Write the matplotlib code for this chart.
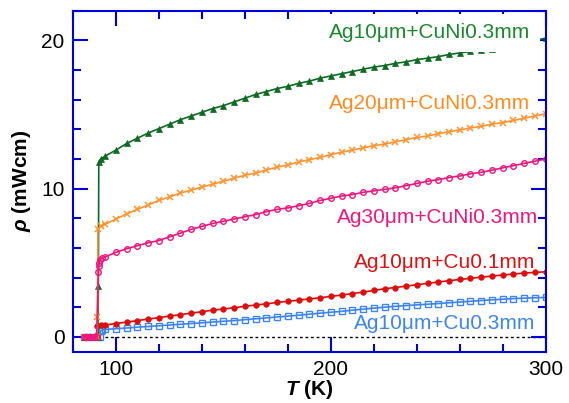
import numpy as np
import matplotlib
matplotlib.use("Agg")
import matplotlib.pyplot as plt
from matplotlib.ticker import MultipleLocator

# Resistivity vs temperature for Ag/Cu and Ag/CuNi samples
# low-T part (below and through the transition), then a 5 K grid up to 300 K
temp_grid = [95, 100, 105, 110, 115, 120, 125, 130, 135, 140,
             145, 150, 155, 160, 165, 170, 175, 180, 185, 190,
             195, 200, 205, 210, 215, 220, 225, 230, 235, 240,
             245, 250, 255, 260, 265, 270, 275, 280, 285, 290,
             295, 300]

# Ag10um + CuNi0.3mm
green_t_low = [85, 87, 89, 91, 91.7, 91.8, 92.0, 93.0]
green_rho_low = [0, 0, 0, 0, 0, 3.4, 11.8, 12.0]
green_rho = [12.2, 12.6, 13.05, 13.4, 13.75, 14.05, 14.35, 14.65, 14.9, 15.15,
             15.4, 15.6, 15.85, 16.1, 16.35, 16.55, 16.75, 16.9, 17.1, 17.25,
             17.45, 17.6, 17.75, 17.9, 18.05, 18.2, 18.3, 18.45, 18.55, 18.7,
             18.8, 18.9, 19.05, 19.15, 19.25, 19.35, 19.45, 19.55, 19.7, 19.85,
             20.0, 20.15]

# Ag20um + CuNi0.3mm
orange_t_low = [85, 87, 89, 91, 91.3, 91.4, 91.6, 93.0]
orange_rho_low = [0, 0, 0, 0, 0, 1.35, 7.25, 7.45]
orange_rho = [7.6, 7.95, 8.3, 8.6, 8.9, 9.2, 9.45, 9.7, 9.9, 10.1,
              10.3, 10.5, 10.7, 10.9, 11.05, 11.25, 11.45, 11.6, 11.8, 11.95,
              12.1, 12.3, 12.45, 12.6, 12.75, 12.9, 13.0, 13.15, 13.3, 13.45,
              13.55, 13.7, 13.85, 13.95, 14.1, 14.2, 14.35, 14.45, 14.6, 14.75,
              14.9, 15.05]

# Ag30um + CuNi0.3mm
pink_t_low = [85, 86, 87, 88, 89, 90, 91, 91.8, 92.0, 92.2, 92.5, 93.5]
pink_rho_low = [0, 0, 0, 0, 0, 0, 0, 4.35, 4.8, 5.0, 5.2, 5.3]
pink_rho = [5.4, 5.7, 5.95, 6.15, 6.35, 6.5, 6.75, 7.0, 7.25, 7.45,
            7.65, 7.8, 7.95, 8.1, 8.25, 8.45, 8.6, 8.7, 8.85, 9.0,
            9.2, 9.35, 9.5, 9.6, 9.75, 9.85, 9.95, 10.05, 10.2, 10.35,
            10.5, 10.6, 10.75, 10.85, 11.0, 11.1, 11.25, 11.4, 11.55, 11.7,
            11.85, 12.0]

# Ag10um + Cu0.1mm
red_t_low = [85, 87, 89, 91, 91.2, 93.0]
red_rho_low = [0, 0, 0, 0.1, 0.75, 0.78]
red_rho = [0.8, 0.9, 1.0, 1.1, 1.2, 1.3, 1.4, 1.5, 1.6, 1.7,
           1.8, 1.88, 1.97, 2.06, 2.15, 2.23, 2.32, 2.4, 2.48, 2.56,
           2.64, 2.73, 2.82, 2.92, 3.02, 3.13, 3.25, 3.33, 3.42, 3.52,
           3.61, 3.7, 3.79, 3.87, 3.95, 4.03, 4.1, 4.17, 4.24, 4.3,
           4.35, 4.39]

# Ag10um + Cu0.3mm
blue_t_low = [85, 87, 89, 91, 92.5, 92.8, 93.5]
blue_rho_low = [0, 0, 0, 0, 0, 0.42, 0.45]
blue_rho = [0.5, 0.55, 0.6, 0.65, 0.7, 0.75, 0.8, 0.85, 0.9, 0.95,
            1.0, 1.05, 1.1, 1.16, 1.22, 1.28, 1.34, 1.4, 1.46, 1.53,
            1.6, 1.66, 1.72, 1.8, 1.87, 1.94, 2.0, 2.06, 2.11, 2.16,
            2.2, 2.25, 2.3, 2.35, 2.4, 2.45, 2.5, 2.54, 2.58, 2.61,
            2.64, 2.66]

labels = ["Ag10\u03bcm+CuNi0.3mm", "Ag20\u03bcm+CuNi0.3mm", "Ag30\u03bcm+CuNi0.3mm",
          "Ag10\u03bcm+Cu0.1mm", "Ag10\u03bcm+Cu0.3mm"]

plt.rcParams['font.family'] = ['Liberation Sans', 'DejaVu Sans']
plt.rcParams['mathtext.fontset'] = 'custom'
plt.rcParams['mathtext.it'] = 'Liberation Sans:italic:bold'
plt.rcParams['mathtext.rm'] = 'Liberation Sans:bold'
plt.rcParams['mathtext.bf'] = 'Liberation Sans:bold'

frame_col = '#0000dd'

fig = plt.figure(figsize=(5.69, 4.03), dpi=100)
ax = fig.add_axes([0.1283, 0.1273, 0.8307, 0.8461])

def series(t_low, r_low, r_main):
    return np.array(t_low + temp_grid), np.array(r_low + r_main)

# zero reference line
ax.plot([95, 300], [0, 0], color='black', lw=1, ls=(0, (2, 2)), zorder=1)

t, r = series(blue_t_low, blue_rho_low, blue_rho)
ax.plot(t, r, color='#3d85f5', lw=1.2, marker='s', ms=4, mfc='none', mew=1, zorder=2)

t, r = series(red_t_low, red_rho_low, red_rho)
ax.plot(t, r, color='#e00d0d', lw=1.2, marker='o', ms=4, mew=0.5, zorder=3)

t, r = series(green_t_low, green_rho_low, green_rho)
ax.plot(t, r, color='#0d6b22', lw=1.2, marker='^', ms=4.5, mew=0.5, zorder=3)

t, r = series(orange_t_low, orange_rho_low, orange_rho)
ax.plot(t, r, color='#ff9430', lw=1.2, marker='x', ms=4, mew=1.1, zorder=3)

t, r = series(pink_t_low, pink_rho_low, pink_rho)
ax.plot(t, r, color='#ee1680', lw=1.2, marker='o', ms=4, mfc='none', mew=1, zorder=4)

# curve labels, right aligned in axes fraction
text_cols = ['#1b8a2e', '#ff8c1f', '#ee1680', '#e01010', '#3d85f5']
text_x = [0.968, 0.968, 0.985, 0.978, 0.978]
text_y = [0.935, 0.729, 0.395, 0.263, 0.084]
for i, lab in enumerate(labels):
    kw = {}
    if i == 0:
        # the reference label sits on a white box that hides the curve's end
        kw['bbox'] = dict(facecolor='white', edgecolor='none', pad=7)
    ax.text(text_x[i], text_y[i], lab, transform=ax.transAxes, ha='right', va='center',
            fontsize=15, color=text_cols[i], zorder=6, **kw)

ax.set_xlim(80, 300)
ax.set_ylim(-1, 22)
ax.xaxis.set_major_locator(MultipleLocator(100))
ax.xaxis.set_minor_locator(MultipleLocator(20))
ax.yaxis.set_major_locator(MultipleLocator(10))
ax.yaxis.set_minor_locator(MultipleLocator(2))

ax.tick_params(which='both', direction='in', top=True, right=True, color=frame_col,
               width=1.5, labelsize=15, labelcolor='black', pad=6)
ax.tick_params(which='major', length=11)
ax.tick_params(which='minor', length=6)
for sp in ax.spines.values():
    sp.set_color(frame_col)
    sp.set_linewidth(1.5)
    sp.set_zorder(7)

ax.set_xlabel(r'$T$ (K)', fontsize=15, fontweight='bold', labelpad=-1)
ax.set_ylabel(r'$\rho$ (mWcm)', fontsize=15, fontweight='bold', labelpad=6)

fig.savefig('out.png', dpi=100)
